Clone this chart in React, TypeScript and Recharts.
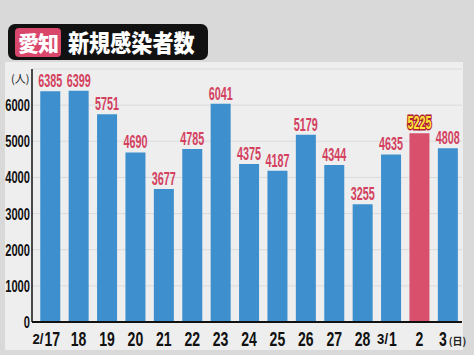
import React from "react";
import { BarChart, Bar, XAxis, YAxis, CartesianGrid, Cell, LabelList } from "recharts";

const days = ["2/17", "18", "19", "20", "21", "22", "23", "24", "25", "26", "27", "28", "3/1", "2", "3"];
const cases = [6385, 6399, 5751, 4690, 3677, 4785, 6041, 4375, 4187, 5179, 4344, 3255, 4635, 5225, 4808];
const yTicks = [0, 1000, 2000, 3000, 4000, 5000, 6000];
const highlightIdx = 13; // 3/2

const data = days.map((d, i) => ({ day: d, cases: cases[i] }));

const NARROW = "'Liberation Sans Narrow','Liberation Sans',Arial,sans-serif";
const CJK = "'Noto Sans CJK JP','Noto Sans CJK SC',sans-serif";

function XTick(props: any) {
  const { x, y, payload, index } = props;
  const v: string = payload.value;
  const parts = v.split("/");
  const base = y + 16;
  if (parts.length === 2) {
    // "2/17" style: small month prefix
    const mainW = parts[1].length * 7.8;
    const mainX = x + 2 - mainW / 2;
    return (
      <g fontFamily={NARROW} fontWeight="bold" fill="#111">
        <text x={mainX - 12} y={base - 2} fontSize={15} textLength={11} lengthAdjust="spacingAndGlyphs">
          {parts[0] + "/"}
        </text>
        <text x={mainX} y={base} fontSize={20} textLength={mainW} lengthAdjust="spacingAndGlyphs">
          {parts[1]}
        </text>
      </g>
    );
  }
  const w = v.length * 7.8;
  const last = index === days.length - 1;
  const cx = last ? x - 5 : x;
  return (
    <g fontFamily={NARROW} fontWeight="bold" fill="#111">
      <text x={cx - w / 2} y={base} fontSize={20} textLength={w} lengthAdjust="spacingAndGlyphs">
        {v}
      </text>
      {last && (
        <text x={cx + w / 2 + 2} y={base - 1} fontSize={10} fontFamily={CJK} fill="#222">
          (日)
        </text>
      )}
    </g>
  );
}

function YTick(props: any) {
  const { x, y, payload } = props;
  const s = String(payload.value);
  const w = s.length * 6.2;
  return (
    <text
      x={x + 6 - w}
      y={y + 6}
      fontFamily={NARROW}
      fontWeight="bold"
      fontSize={17}
      fill="#111"
      textLength={w}
      lengthAdjust="spacingAndGlyphs"
    >
      {s}
    </text>
  );
}

function ValueLabel(props: any) {
  const { x, y, width, value, index } = props;
  const s = String(value);
  const hi = index === highlightIdx;
  // small font stretched vertically, like the condensed TV caption font
  return (
    <text
      transform={`translate(${x + width / 2},${y - 4}) scale(1,1.38)`}
      x={-12}
      y={0}
      fontFamily={NARROW}
      fontWeight="bold"
      fontSize={13}
      textLength={24}
      lengthAdjust="spacingAndGlyphs"
      fill={hi ? "#ffe53a" : "#d3415f"}
      stroke={hi ? "#b0202e" : "none"}
      strokeWidth={hi ? 2.2 : 0}
      paintOrder="stroke"
    >
      {s}
    </text>
  );
}

export default function App() {
  return (
    <div style={{ position: "absolute", left: 0, top: 0, width: 474, height: 355, background: "#d9d9d9", overflow: "hidden" }}>
      <div style={{ position: "absolute", left: 5, top: 62, width: 458, height: 288, background: "#eeeeee" }} />
      <div style={{ position: "absolute", left: 0, top: 0 }}>
        <BarChart width={474} height={355} data={data} margin={{ top: 69, right: 12, left: 0, bottom: 0 }} barCategoryGap="15%">
          <CartesianGrid vertical={false} stroke="#d9dadc" />
          <XAxis
            dataKey="day"
            height={33}
            tickLine={false}
            axisLine={{ stroke: "#111", strokeWidth: 2 }}
            padding={{ left: 4, right: 0 }}
            tick={<XTick />}
            interval={0}
          />
          <YAxis
            width={32}
            domain={[0, 7000]}
            ticks={yTicks}
            tickLine={false}
            axisLine={{ stroke: "#111", strokeWidth: 1.5 }}
            tick={<YTick />}
          />
          <Bar dataKey="cases" isAnimationActive={false}>
            {data.map((_, i) => (
              <Cell key={i} fill={i === highlightIdx ? "#d9506c" : "#3d8fcd"} />
            ))}
            <LabelList dataKey="cases" content={<ValueLabel />} />
          </Bar>
        </BarChart>
      </div>
      <div style={{ position: "absolute", left: 11, top: 70, fontFamily: CJK, fontSize: 11, color: "#222" }}>(人)</div>
      <div style={{ position: "absolute", left: 8, top: 24, width: 200, height: 36, background: "#111", borderRadius: 7 }}>
        <div
          style={{
            position: "absolute",
            left: 7,
            top: 4,
            width: 46,
            height: 29,
            background: "#d9476a",
            borderRadius: 4,
            color: "#fff",
            fontFamily: CJK,
            fontWeight: 900,
            fontSize: 21,
            lineHeight: "29px",
            textAlign: "center",
            letterSpacing: -1,
          }}
        >
          愛知
        </div>
        <div
          style={{
            position: "absolute",
            left: 60,
            top: 2,
            color: "#fff",
            fontFamily: CJK,
            fontWeight: 900,
            fontSize: 24,
            lineHeight: "32px",
            whiteSpace: "nowrap",
            transform: "scaleX(0.88)",
            transformOrigin: "left center",
          }}
        >
          新規感染者数
        </div>
      </div>
    </div>
  );
}
